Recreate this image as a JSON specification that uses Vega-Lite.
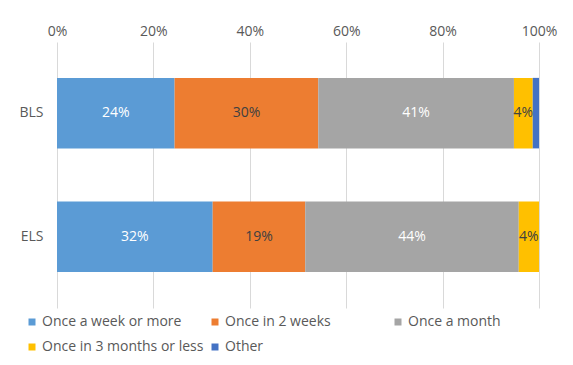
{
  "$schema": "https://vega.github.io/schema/vega-lite/v6.json",
  "width": 482,
  "height": 266,
  "autosize": {"type": "none"},
  "padding": {"left": 57, "top": 42, "right": 34, "bottom": 57},
  "background": "white",
  "config": {
    "font": "Open Sans",
    "view": {"stroke": null}
  },
  "data": {
    "values": [
      {"group": "BLS", "cat": "Once a week or more", "ord": 1, "share": 0.244},
      {"group": "BLS", "cat": "Once in 2 weeks", "ord": 2, "share": 0.298},
      {"group": "BLS", "cat": "Once a month", "ord": 3, "share": 0.406},
      {"group": "BLS", "cat": "Once in 3 months or less", "ord": 4, "share": 0.039},
      {"group": "BLS", "cat": "Other", "ord": 5, "share": 0.013},
      {"group": "ELS", "cat": "Once a week or more", "ord": 1, "share": 0.323},
      {"group": "ELS", "cat": "Once in 2 weeks", "ord": 2, "share": 0.192},
      {"group": "ELS", "cat": "Once a month", "ord": 3, "share": 0.443},
      {"group": "ELS", "cat": "Once in 3 months or less", "ord": 4, "share": 0.042},
      {"group": "ELS", "cat": "Other", "ord": 5, "share": 0.0}
    ]
  },
  "transform": [
    {"stack": "share", "groupby": ["group"], "sort": [{"field": "ord", "order": "ascending"}], "as": ["s0", "s1"]},
    {"calculate": "(datum.s0 + datum.s1) / 2", "as": "mid"}
  ],
  "encoding": {
    "y": {
      "field": "group",
      "type": "nominal",
      "sort": ["BLS", "ELS"],
      "scale": {"paddingInner": 0.43, "paddingOuter": 0.29},
      "axis": {
        "title": null,
        "domain": false,
        "ticks": false,
        "labelFontSize": 14,
        "labelColor": "#595959",
        "labelPadding": 14
      }
    }
  },
  "layer": [
    {
      "mark": {"type": "bar"},
      "encoding": {
        "x": {
          "field": "s0",
          "type": "quantitative",
          "scale": {"domain": [0, 1], "nice": false},
          "axis": {
            "orient": "top",
            "title": null,
            "format": ".0%",
            "values": [0, 0.2, 0.4, 0.6, 0.8, 1],
            "domain": false,
            "ticks": false,
            "grid": true,
            "gridColor": "#D9D9D9",
            "gridWidth": 1,
            "labelFlush": false,
            "labelFontSize": 14,
            "labelColor": "#595959",
            "labelPadding": 4
          }
        },
        "x2": {"field": "s1"},
        "color": {
          "field": "cat",
          "type": "nominal",
          "sort": ["Once a week or more", "Once in 2 weeks", "Once a month", "Once in 3 months or less", "Other"],
          "scale": {
            "domain": ["Once a week or more", "Once in 2 weeks", "Once a month", "Once in 3 months or less", "Other"],
            "range": ["#5B9BD5", "#ED7D31", "#A5A5A5", "#FFC000", "#4472C4"]
          },
          "legend": {
            "title": null,
            "orient": "none",
            "legendX": -32,
            "legendY": 273,
            "direction": "horizontal",
            "columns": 3,
            "gridAlign": "all",
            "columnPadding": 4,
            "rowPadding": 11,
            "symbolType": "square",
            "symbolSize": 49,
            "symbolStrokeWidth": 0,
            "labelFontSize": 14,
            "labelColor": "#595959",
            "labelOffset": 3,
            "labelLimit": 250
          }
        },
        "order": {"field": "ord", "type": "quantitative"}
      }
    },
    {
      "transform": [{"filter": "datum.share > 0.02"}],
      "mark": {"type": "text", "fontSize": 14, "align": "center", "baseline": "middle"},
      "encoding": {
        "x": {"field": "mid", "type": "quantitative"},
        "text": {"field": "share", "type": "quantitative", "format": ".0%"},
        "color": {
          "condition": {"test": "datum.cat === 'Once in 2 weeks' || datum.cat === 'Once in 3 months or less'", "value": "#404040"},
          "value": "#FFFFFF"
        }
      }
    }
  ]
}
